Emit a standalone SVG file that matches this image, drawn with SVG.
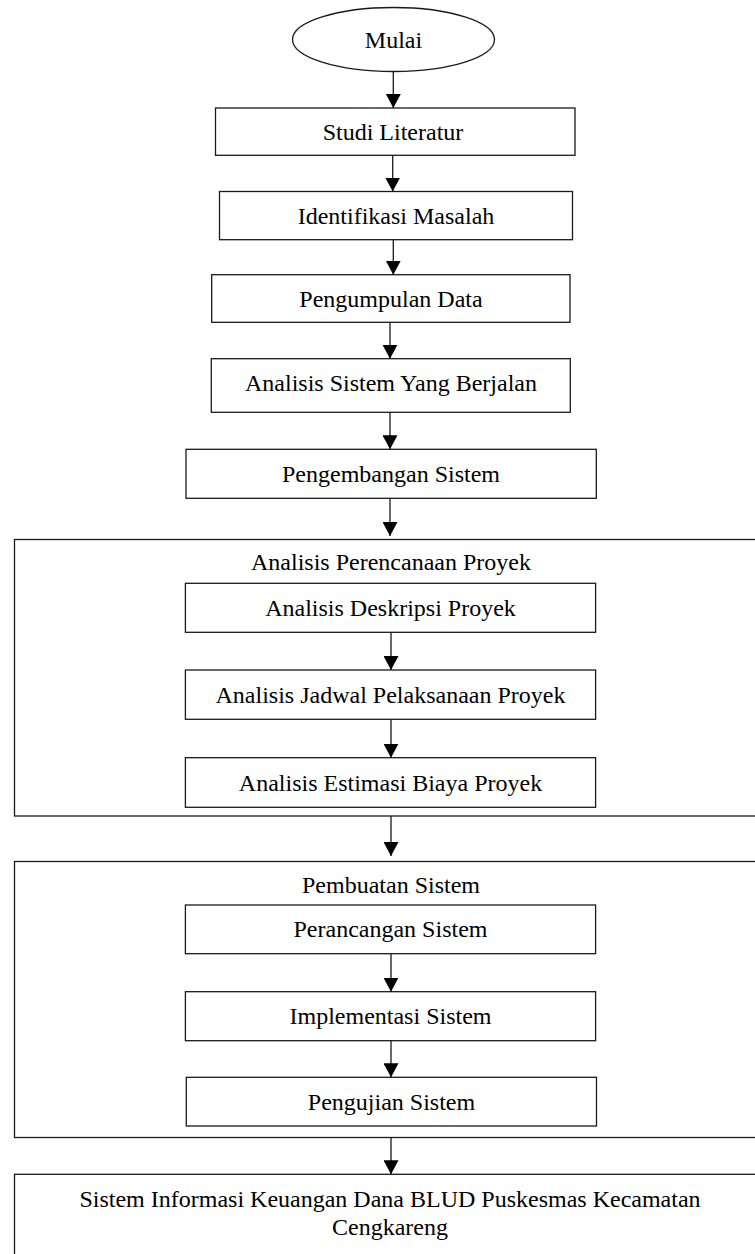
<svg xmlns="http://www.w3.org/2000/svg" width="755" height="1254" viewBox="0 0 755 1254">
<style>
.b{fill:#fff;stroke:#1a1a1a;stroke-width:1.3}
.t{font-family:"Liberation Serif","Times New Roman",serif;font-size:24px;fill:#000;text-anchor:middle}
.c{stroke:#1a1a1a;stroke-width:1.3;fill:none;marker-end:url(#ah)}
</style>
<defs>
<marker id="ah" markerUnits="userSpaceOnUse" markerWidth="16" markerHeight="15" refX="14" refY="7.5" orient="auto">
<path d="M0,0 L14,7.5 L0,15 Z" fill="#000"/>
</marker>
</defs>
<rect width="755" height="1254" fill="#fff"/>
<g id="outer1"><rect class="b" x="14.5" y="539.5" width="760" height="276.5"/><text class="t" x="391" y="570">Analisis Perencanaan Proyek</text></g>
<g id="outer2"><rect class="b" x="14.5" y="861.5" width="760" height="276"/><text class="t" x="391" y="893">Pembuatan Sistem</text></g>
<g id="mulai"><ellipse class="b" cx="393.5" cy="39.5" rx="101" ry="32"/><text class="t" x="393.5" y="48">Mulai</text></g>
<g id="studi"><rect class="b" x="215.5" y="108" width="359.5" height="47.3"/><text class="t" x="393" y="139.5">Studi Literatur</text></g>
<g id="identifikasi"><rect class="b" x="219.5" y="191.5" width="353" height="48.2"/><text class="t" x="396" y="224">Identifikasi Masalah</text></g>
<g id="pengumpulan"><rect class="b" x="211.7" y="274.7" width="358.3" height="47.6"/><text class="t" x="391" y="306.5">Pengumpulan Data</text></g>
<g id="analisis-sistem"><rect class="b" x="211.3" y="358.7" width="359" height="53.6"/><text class="t" x="391" y="391">Analisis Sistem Yang Berjalan</text></g>
<g id="pengembangan"><rect class="b" x="186" y="449.3" width="410.3" height="49"/><text class="t" x="391" y="481.7">Pengembangan Sistem</text></g>
<g id="deskripsi"><rect class="b" x="185.4" y="583.3" width="410.2" height="49"/><text class="t" x="390.5" y="615.8">Analisis Deskripsi Proyek</text></g>
<g id="jadwal"><rect class="b" x="185.4" y="670" width="410.2" height="49.3"/><text class="t" x="390.5" y="702.7">Analisis Jadwal Pelaksanaan Proyek</text></g>
<g id="estimasi"><rect class="b" x="185.4" y="757.7" width="410.2" height="49.6"/><text class="t" x="390.5" y="790.5">Analisis Estimasi Biaya Proyek</text></g>
<g id="perancangan"><rect class="b" x="185.4" y="905" width="410.2" height="48.7"/><text class="t" x="390.5" y="937.4">Perancangan Sistem</text></g>
<g id="implementasi"><rect class="b" x="185.4" y="991.7" width="410.2" height="49"/><text class="t" x="390.5" y="1024">Implementasi Sistem</text></g>
<g id="pengujian"><rect class="b" x="186.3" y="1077.3" width="410.2" height="48.7"/><text class="t" x="391.5" y="1109.7">Pengujian Sistem</text></g>
<g id="final"><rect class="b" x="14.5" y="1174.3" width="760" height="90"/><text class="t" x="390" y="1207">Sistem Informasi Keuangan Dana BLUD Puskesmas Kecamatan</text><text class="t" x="390" y="1235">Cengkareng</text></g>
<g id="connectors">
<line class="c" x1="393.3" y1="71.5" x2="393.3" y2="108"/>
<line class="c" x1="392.7" y1="155.3" x2="392.7" y2="191.5"/>
<line class="c" x1="393.3" y1="239.7" x2="393.3" y2="274.7"/>
<line class="c" x1="390" y1="322.3" x2="390" y2="358.7"/>
<line class="c" x1="390" y1="412.3" x2="390" y2="449.3"/>
<line class="c" x1="390" y1="498.3" x2="390" y2="536"/>
<line class="c" x1="391" y1="632.3" x2="391" y2="670"/>
<line class="c" x1="391" y1="719.3" x2="391" y2="757.7"/>
<line class="c" x1="391" y1="816" x2="391" y2="856"/>
<line class="c" x1="391" y1="953.7" x2="391" y2="991.7"/>
<line class="c" x1="391" y1="1040.7" x2="391" y2="1077.3"/>
<line class="c" x1="391" y1="1137.7" x2="391" y2="1174.3"/>
</g>
</svg>
